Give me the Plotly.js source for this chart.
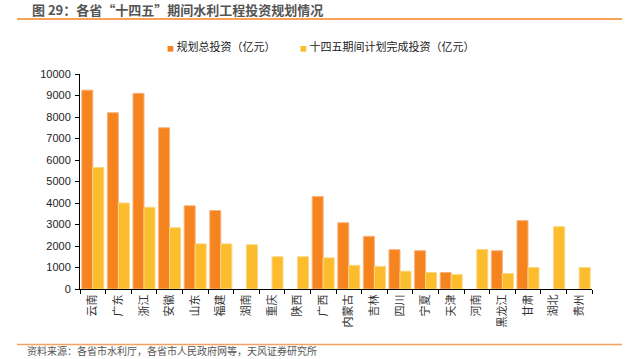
<!DOCTYPE html>
<html>
<head>
<meta charset="utf-8">
<script src="https://cdn.plot.ly/plotly-3.0.1.min.js"></script>
<style>html,body{margin:0;padding:0;background:#fff;}#chart{width:639px;height:359px;}</style>
</head>
<body>
<div id="chart"></div>
<script>
const provinces = ["云南","广东","浙江","安徽","山东","福建","湖南","重庆","陕西","广西","内蒙古","吉林","四川","宁夏","天津","河南","黑龙江","甘肃","湖北","贵州"];
const totalInvestment = [9250,8200,9100,7500,3870,3650,null,null,null,4300,3080,2450,1830,1780,770,null,1780,3180,null,null];
const plannedCompletion = [5650,4000,3800,2850,2100,2100,2060,1500,1500,1450,1100,1050,830,770,670,1840,720,1000,2900,1000];
const yTicks = [0,1000,2000,3000,4000,5000,6000,7000,8000,9000,10000];
const seriesNames = ["规划总投资（亿元）","十四五期间计划完成投资（亿元）"];
const seriesColors = ["#F5841F","#FBBC2D"];

const font = "Liberation Sans, Arial, Noto Sans CJK SC, sans-serif";
const cjk = "Noto Sans CJK SC, sans-serif";
const data = [
  {type:"bar", name:seriesNames[0], x:provinces, y:totalInvestment,
   marker:{color:seriesColors[0], line:{color:"#F9B27F", width:1}}},
  {type:"bar", name:seriesNames[1], x:provinces, y:plannedCompletion,
   marker:{color:seriesColors[1], line:{color:"#FDD77F", width:1}}}
];
const legendX = [0.166, 0.426];
const layout = {
  width:639, height:359,
  margin:{l:80, r:47, t:74, b:70},
  paper_bgcolor:"#fff", plot_bgcolor:"#fff",
  font:{family:font, size:11, color:"#222"},
  barmode:"group", bargap:0.14, bargroupgap:0,
  showlegend:false,
  xaxis:{type:"category", tickangle:-90, showline:true, linecolor:"#000", linewidth:1,
         ticks:"outside", ticklen:4, tickcolor:"#000", tickson:"boundaries",
         tickfont:{family:cjk, size:11, color:"#333"},
         showgrid:false, zeroline:false, fixedrange:true},
  yaxis:{range:[0,10000], tickvals:yTicks, ticktext:yTicks.map(String), showline:true, linecolor:"#000", linewidth:1,
         ticks:"outside", ticklen:4, tickcolor:"#000", showgrid:false, zeroline:false,
         tickfont:{family:font, size:11, color:"#222"}, ticklabelstandoff:2},
  shapes:[
    {type:"line", xref:"paper", yref:"paper", x0:-0.123, x1:1.0586, y0:1.256, y1:1.256,
     line:{color:"#F5841F", width:1.5}},
    {type:"line", xref:"paper", yref:"paper", x0:-0.123, x1:1.0586, y0:-0.258, y1:-0.258,
     line:{color:"#F5A060", width:1.5}}
  ],
  annotations:[
    {xref:"paper", yref:"paper", x:-0.098, y:1.302, xanchor:"left", yanchor:"middle", showarrow:false,
     text:"<b>图 29：各省“十四五”期间水利工程投资规划情况</b>",
     font:{family:cjk, size:13, color:"#555"}},
    {xref:"paper", yref:"paper", x:-0.107, y:-0.288, xanchor:"left", yanchor:"middle", showarrow:false,
     text:"资料来源：各省市水利厅，各省市人民政府网等，天风证券研究所",
     font:{family:cjk, size:10, color:"#555"}}
  ].concat(seriesNames.map((n,i)=>({
     xref:"paper", yref:"paper", x:legendX[i], y:1.1316, xanchor:"left", yanchor:"middle", showarrow:false,
     text:'<span style="color:'+seriesColors[i]+';font-size:7px">■</span> '+n,
     font:{family:cjk, size:11, color:"#222"}
  })))
};
Plotly.newPlot("chart", data, layout, {displayModeBar:false, staticPlot:true});
</script>
</body>
</html>
